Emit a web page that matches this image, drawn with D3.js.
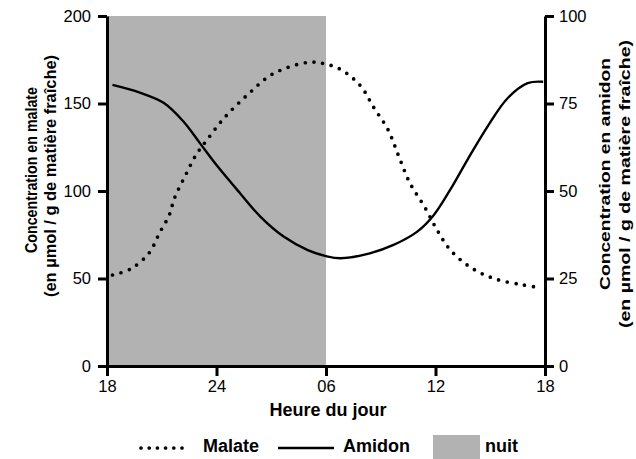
<!DOCTYPE html>
<html>
<head>
<meta charset="utf-8">
<script src="https://cdn.jsdelivr.net/npm/d3@7"></script>
<style>
  body { margin: 0; background: #fff; }
  svg { display: block; font-family: Arial, "Liberation Sans", sans-serif; }
</style>
</head>
<body>
<svg id="chart" width="636" height="459"></svg>
<script>
// hours counted from 18h (0 = 18h, 12 = 06h, 24 = 18h next day)
const tickHours = [0, 6, 12, 18, 24];
const tickLabels = ['18', '24', '06', '12', '18'];
const nightStart = 0;
const nightEnd = 12;

const malateHours = [0.3, 1.3, 2.3, 2.9, 3.4, 3.7, 4.3, 4.9, 5.5, 6.4, 7.7, 9.1, 11.0, 11.8, 12.8, 13.9, 14.6, 15.4, 16.0, 16.6, 17.4, 18.1, 18.8, 19.9, 21.2, 22.7, 23.6];
const malate = [52, 55.5, 64.5, 76.5, 86, 96, 109, 121, 129.5, 141.5, 155, 167, 173.5, 173, 169.5, 160, 148, 135, 119.5, 104.5, 91, 77.5, 66.5, 56.5, 50, 46.5, 45];

const amidonHours = [0.3, 1.8, 3.1, 4.2, 5.1, 6.0, 7.3, 8.4, 9.7, 11.0, 12.0, 12.8, 14.4, 15.7, 17.0, 17.9, 18.8, 19.75, 20.85, 21.95, 23.05, 23.9];
const amidon = [80.3, 78.1, 75.2, 69.8, 63.6, 57.4, 49.3, 42.7, 36.9, 33.1, 31.4, 30.8, 32.2, 34.6, 38.4, 43.1, 50.3, 58.9, 68.4, 76.5, 80.8, 81.2];

const malateTicks = [0, 50, 100, 150, 200];
const amidonTicks = [0, 25, 50, 75, 100];

const svg = d3.select('#chart');
const m = { left: 107, right: 545, top: 16, bottom: 366 };

const x = d3.scaleLinear().domain([0, 24]).range([m.left, m.right]);
const yL = d3.scaleLinear().domain([0, 200]).range([m.bottom, m.top]);
const yR = d3.scaleLinear().domain([0, 100]).range([m.bottom, m.top]);

// night band
svg.append('rect')
  .attr('x', x(nightStart)).attr('y', m.top)
  .attr('width', x(nightEnd) - x(nightStart)).attr('height', m.bottom - m.top)
  .attr('fill', '#b2b2b2');

// curves
const malateLine = d3.line().x((d, i) => x(malateHours[i])).y(d => yL(d)).curve(d3.curveCatmullRom.alpha(0.5));
const amidonLine = d3.line().x((d, i) => x(amidonHours[i])).y(d => yR(d)).curve(d3.curveCatmullRom.alpha(0.5));

svg.append('path').datum(amidon).attr('d', amidonLine)
  .attr('fill', 'none').attr('stroke', '#000').attr('stroke-width', 2.4);
svg.append('path').datum(malate).attr('d', malateLine)
  .attr('fill', 'none').attr('stroke', '#000').attr('stroke-width', 3.7)
  .attr('stroke-linecap', 'round').attr('stroke-dasharray', '0,8.8');

// axes
function styleAxis(g) {
  g.selectAll('path.domain').attr('stroke-width', 3).attr('stroke', '#000');
  g.selectAll('.tick line').attr('stroke-width', 3).attr('stroke', '#000');
  g.selectAll('.tick text').attr('font-size', 16.5).attr('fill', '#000')
    .attr('font-family', 'Arial, "Liberation Sans", sans-serif');
}
svg.append('g').attr('transform', 'translate(0,' + m.bottom + ')')
  .call(d3.axisBottom(x).tickValues(tickHours).tickFormat((d, i) => tickLabels[i]).tickSize(10).tickSizeOuter(0).tickPadding(4))
  .call(styleAxis);
svg.append('g').attr('transform', 'translate(' + m.left + ',0)')
  .call(d3.axisLeft(yL).tickValues(malateTicks).tickSize(9).tickSizeOuter(0).tickPadding(7))
  .call(styleAxis);
svg.append('g').attr('transform', 'translate(' + m.right + ',0)')
  .call(d3.axisRight(yR).tickValues(amidonTicks).tickSize(9).tickSizeOuter(0).tickPadding(5))
  .call(styleAxis);

// axis titles
svg.append('text').attr('x', (m.left + m.right) / 2 + 2).attr('y', 416)
  .attr('text-anchor', 'middle').attr('font-weight', 'bold').attr('font-size', 18)
  .text('Heure du jour');

function vTitle(cx, cy, len, size, str) {
  svg.append('text').attr('transform', 'translate(' + cx + ',' + cy + ') rotate(-90)')
    .attr('text-anchor', 'middle').attr('dy', '0.36em')
    .attr('font-weight', 'bold').attr('font-size', size)
    .attr('textLength', len).attr('lengthAdjust', 'spacingAndGlyphs')
    .text(str);
}
vTitle(31, 170, 166, 16, 'Concentration en malate');
vTitle(50, 176, 242, 16, '(en µmol / g de matière fraîche)');
vTitle(605, 174, 232, 15, 'Concentration en amidon');
vTitle(625, 184, 288, 15, '(en µmol / g de matière fraîche)');

// legend
const ly = 448;
svg.append('line').attr('x1', 141).attr('x2', 190).attr('y1', ly).attr('y2', ly)
  .attr('stroke', '#000').attr('stroke-width', 3.7).attr('stroke-linecap', 'round')
  .attr('stroke-dasharray', '0,8.2');
svg.append('text').attr('x', 203).attr('y', 452).attr('font-weight', 'bold').attr('font-size', 18).text('Malate');
svg.append('line').attr('x1', 278).attr('x2', 334).attr('y1', ly).attr('y2', ly)
  .attr('stroke', '#000').attr('stroke-width', 2.6);
svg.append('text').attr('x', 343).attr('y', 452).attr('font-weight', 'bold').attr('font-size', 18).text('Amidon');
svg.append('rect').attr('x', 433).attr('y', 435).attr('width', 47).attr('height', 30).attr('fill', '#b2b2b2');
svg.append('text').attr('x', 485).attr('y', 452).attr('font-weight', 'bold').attr('font-size', 18).text('nuit');
</script>
</body>
</html>
